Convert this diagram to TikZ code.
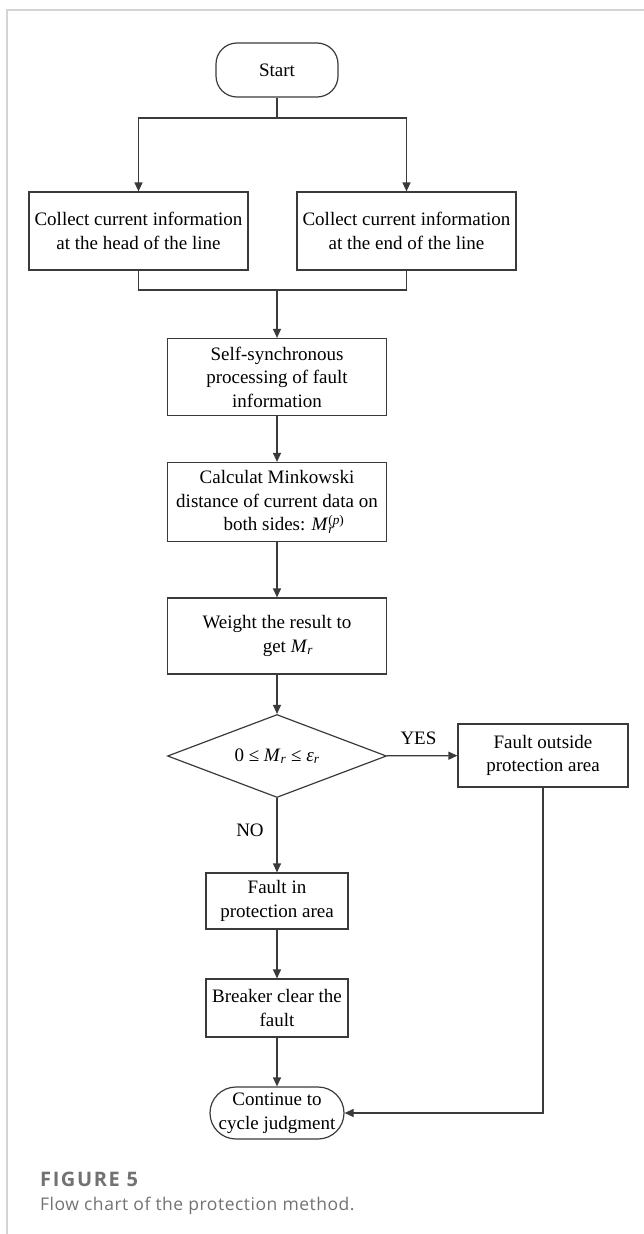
\documentclass[tikz,border=0pt]{standalone}
\usepackage{fontspec}
\setmainfont{Liberation Serif}
\newfontfamily\capfont[LetterSpace=3]{Open Sans}
\newfontfamily\figfont[LetterSpace=8]{Open Sans}
\usetikzlibrary{arrows.meta,shapes.geometric}

\definecolor{framegray}{HTML}{D4D4D4}
\definecolor{capgray}{HTML}{727272}
\definecolor{linegray}{HTML}{3A3A3A}

\newcommand{\Mr}{\textit{M}\textsubscript{\textit{r}}}

\begin{document}
\begin{tikzpicture}[x=1pt,y=-1pt,>={Triangle[length=9pt,width=8pt]},
  every node/.style={font=\fontsize{19}{23.5}\selectfont,inner sep=0pt},
  flow/.style={draw=linegray,line width=1.2pt},
  procbox/.style={draw=linegray,line width=1.2pt,align=center,minimum width=#1,minimum height=78pt},
  procbox/.default=219pt,
  termbox/.style={draw=linegray,line width=1.2pt,align=center,rounded corners=#1},
  decision/.style={draw=linegray,line width=1.2pt,diamond,aspect=2.6,minimum width=219pt,minimum height=83pt}]
  \useasboundingbox (0,0) rectangle (644,1234);
  % frame
  \draw[framegray,line width=1.5pt] (644,10) -- (7,10) -- (7,1234);

  % nodes
  \node[termbox=21pt,minimum width=122pt,minimum height=54pt] (start) at (277,70) {Start};
  \node[procbox] (head) at (138.5,231) {Collect current information\\at the head of the line};
  \node[procbox] (tail) at (406.5,231) {Collect current information\\at the end of the line};
  \node[procbox,minimum height=77pt] (sync) at (277,377) {Self-synchronous\\processing of fault\\information};
  \node[procbox,minimum height=79pt] (mink) at (277,502) {Calculat Minkowski\\distance of current data on\\\hspace*{14pt}both sides: \textit{M}\rlap{\textsubscript{\textit{r}}}\textsuperscript{(\textit{p})}};
  \node[procbox,minimum height=76pt] (weight) at (277,636) {Weight the result to\\\hspace*{22pt}get \Mr};
  \node[decision] (check) at (277,756) {0 ≤ \Mr\ ≤ \textit{ε}\textsubscript{\textit{r}}};
  \node[procbox=170pt,minimum height=63pt] (outside) at (543,755.5) {Fault outside\\protection area};
  \node[procbox=142pt,minimum height=56pt] (faultin) at (277,901) {Fault in\\protection area};
  \node[procbox=142pt,minimum height=58pt] (breaker) at (277,1008) {Breaker clear the\\fault};
  \node[termbox=26pt,minimum width=134pt,minimum height=52pt] (cont) at (277,1113) {Continue to\\cycle judgment};
  \coordinate (split) at (277,118);
  \coordinate (merge) at (277,290);

  % connectors
  \draw[flow] (start) -- (split);
  \draw[flow,->] (split) -| (head);
  \draw[flow,->] (split) -| (tail);
  \draw[flow] (head) |- (merge);
  \draw[flow] (tail) |- (merge);
  \draw[flow,->] (merge) -- (sync);
  \draw[flow,->] (sync) -- (mink);
  \draw[flow,->] (mink) -- (weight);
  \draw[flow,->] (weight) -- (check);
  \draw[flow,->] (check) -- (outside) node[pos=0.45,above=10pt] (yes) {YES};
  \draw[flow,->] (check) -- (faultin);
  \node (no) at (250,830) {NO};
  \draw[flow,->] (faultin) -- (breaker);
  \draw[flow,->] (breaker) -- (cont);
  \draw[flow,->] (outside) |- (cont);

  % caption
  \node[anchor=base west,font=\figfont\bfseries\fontsize{20}{24}\selectfont,text=capgray] (fig) at (40,1186) {FIGURE 5};
  \node[anchor=base west,font=\capfont\fontsize{17.5}{21}\selectfont,text=capgray] (cap) at (40,1210) {Flow chart of the protection method.};
\end{tikzpicture}
\end{document}
